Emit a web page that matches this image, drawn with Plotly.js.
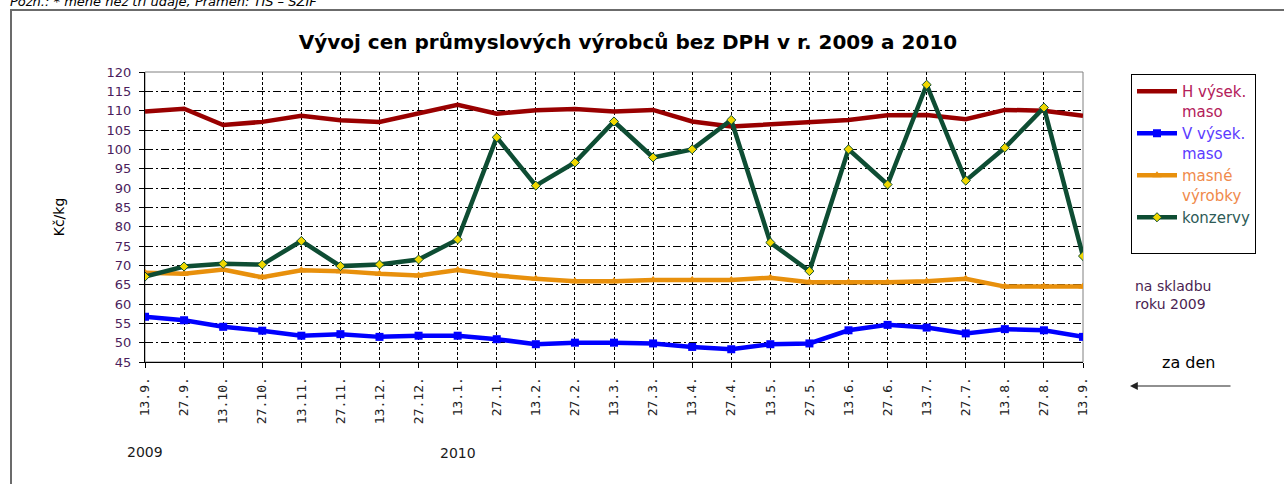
<!DOCTYPE html>
<html>
<head>
<meta charset="utf-8">
<script src="https://cdn.plot.ly/plotly-3.0.1.min.js"></script>
<style>
  html, body { margin: 0; padding: 0; background: #ffffff; }
  #chart { width: 1284px; height: 484px; }
</style>
</head>
<body>
<div id="chart"></div>
<script>
// ---- data ----
const dateLabels = ["13.9.","27.9.","13.10.","27.10.","13.11.","27.11.","13.12.","27.12.",
  "13.1.","27.1.","13.2.","27.2.","13.3.","27.3.","13.4.","27.4.","13.5.","27.5.",
  "13.6.","27.6.","13.7.","27.7.","13.8.","27.8.","13.9."];
const hVysekMaso = [109.8,110.5,106.3,107.1,108.7,107.5,107.1,109.2,111.5,109.2,110.1,110.4,
  109.8,110.2,107.2,105.9,106.5,107.1,107.6,108.8,108.9,107.8,110.2,110.0,108.7];
const vVysekMaso = [56.7,55.8,54.1,53.1,51.8,52.2,51.5,51.8,51.8,50.9,49.6,50.0,
  50.0,49.8,48.9,48.3,49.6,49.8,53.2,54.6,53.9,52.4,53.5,53.2,51.5];
const masneVyrobky = [68.1,67.8,68.9,66.9,68.7,68.5,67.8,67.4,68.8,67.4,66.5,65.9,
  65.9,66.2,66.2,66.2,66.8,65.6,65.6,65.6,65.9,66.5,64.5,64.5,64.5];
const konzervy = [67.1,69.7,70.4,70.2,76.3,69.8,70.2,71.5,76.7,103.1,90.6,96.6,
  107.2,97.9,100.0,107.6,75.9,68.5,100.0,90.9,116.7,91.9,100.4,110.8,72.4];
const seriesNames = ["H výsek.<br>maso", "V výsek.<br>maso", "masné<br>výrobky", "konzervy<br>&nbsp;"];
const yearLabels = ["2009", "2010"];
const yearIndex = [0, 8];

const idx = dateLabels.map((_, i) => i);
const FONT = "DejaVu Sans, Verdana, sans-serif";

const traces = [
  { x: idx, y: hVysekMaso, name: '<span style="color:#b3205a">' + seriesNames[0] + '</span>',
    mode: 'lines', line: { color: '#990000', width: 4.5 }, legendgroup: 'a' },
  { x: idx, y: vVysekMaso, name: '<span style="color:#5b3cff">' + seriesNames[1] + '</span>',
    mode: 'lines+markers', line: { color: '#0000ff', width: 4.5 },
    marker: { symbol: 'square', size: 8, color: '#0000ff' }, legendgroup: 'b' },
  { x: idx, y: masneVyrobky, name: '<span style="color:#f08a4b">' + seriesNames[2] + '</span>',
    mode: 'lines+markers', line: { color: '#e8900c', width: 4.5 },
    marker: { symbol: 'triangle-up', size: 8, color: '#e8900c' }, legendgroup: 'c' },
  { x: idx, y: konzervy, name: '<span style="color:#2e5b57">' + seriesNames[3] + '</span>',
    mode: 'lines+markers', line: { color: '#0e4d33', width: 4.5 },
    marker: { symbol: 'diamond', size: 7, color: '#f0d800', line: { color: '#0e4d33', width: 1 } },
    legendgroup: 'd' }
];

// plot area: x 145..1083, y 72..362
const L = 145, R = 1083, T = 72, B = 362;
const px = v => (v - L) / (R - L);
const py = v => (B - v) / (B - T);

const layout = {
  width: 1284, height: 484,
  margin: { l: L, r: 1284 - R, t: T, b: 484 - B },
  paper_bgcolor: '#ffffff', plot_bgcolor: '#ffffff',
  showlegend: true,
  font: { family: FONT, size: 13, color: '#000' },
  title: {
    text: '<b>Vývoj cen průmyslových výrobců bez DPH v r. 2009 a 2010</b>',
    font: { family: FONT, size: 20, color: '#000' },
    xref: 'container', x: 628 / 1284, xanchor: 'center',
    yref: 'container', y: 1 - 42 / 484, yanchor: 'middle'
  },
  xaxis: {
    range: [0, dateLabels.length - 1],
    tickmode: 'array', tickvals: idx, ticktext: dateLabels,
    tickangle: -90,
    tickfont: { family: 'DejaVu Sans Mono, monospace', size: 13, color: '#222' },
    ticks: 'outside', ticklen: 5, tickcolor: '#000', ticklabelstandoff: 4,
    showline: true, linecolor: '#000', linewidth: 1,
    showgrid: true, gridcolor: '#000', gridwidth: 1, griddash: '3px,2px',
    zeroline: false, fixedrange: true
  },
  yaxis: {
    range: [45, 120], dtick: 5, tick0: 45,
    tickfont: { family: FONT, size: 13, color: '#4b1d5c' },
    ticks: 'outside', ticklen: 5, tickcolor: '#000', ticklabelstandoff: 5,
    showline: true, linecolor: '#000', linewidth: 1,
    showgrid: true, gridcolor: '#000', gridwidth: 1, griddash: '8px,3px,2px,3px',
    zeroline: false, fixedrange: true,
    title: { text: 'Kč/kg', font: { family: FONT, size: 14, color: '#000' }, standoff: 38 }
  },
  legend: {
    x: px(1131), xanchor: 'left', y: py(74), yanchor: 'top',
    bordercolor: '#000', borderwidth: 1, bgcolor: '#fff',
    font: { family: FONT, size: 15 },
    itemwidth: 40, valign: 'top', tracegroupgap: 7,
    traceorder: 'normal'
  },
  shapes: [
    // grey plot-area border
    { type: 'rect', xref: 'paper', yref: 'paper', x0: 0, x1: 1, y0: 0, y1: 1,
      line: { color: '#808080', width: 1 }, layer: 'between' },
    // outer chart frame
    { type: 'rect', xref: 'paper', yref: 'paper', x0: px(11), x1: px(1300), y0: py(10), y1: py(500),
      line: { color: '#6b6b6b', width: 2 } }
  ],
  annotations: [
    { text: '<i>Pozn.: * méně než tři údaje, Pramen: TIS – SZIF</i>', xref: 'paper', yref: 'paper',
      x: px(8), xanchor: 'left', y: py(1), yanchor: 'middle', showarrow: false,
      font: { family: FONT, size: 13, color: '#000' } },
    { text: yearLabels[0], xref: 'x', yref: 'paper', x: yearIndex[0], xanchor: 'center',
      y: py(452), yanchor: 'middle', showarrow: false,
      font: { family: FONT, size: 14, color: '#1a1a1a' } },
    { text: yearLabels[1], xref: 'x', yref: 'paper', x: yearIndex[1], xanchor: 'center',
      y: py(453), yanchor: 'middle', showarrow: false,
      font: { family: FONT, size: 14, color: '#1a1a1a' } },
    { text: 'na skladbu<br>roku 2009', xref: 'paper', yref: 'paper', x: px(1133), xanchor: 'left',
      y: py(276), yanchor: 'top', align: 'left', showarrow: false,
      font: { family: FONT, size: 14, color: '#4b1f52' } },
    { text: 'za den', xref: 'paper', yref: 'paper', x: px(1188), xanchor: 'center',
      y: py(362), yanchor: 'middle', showarrow: false,
      font: { family: FONT, size: 16, color: '#000' } },
    { text: '', xref: 'paper', yref: 'paper', x: px(1130), y: py(386),
      showarrow: true, ax: 102, ay: 0, arrowhead: 2, arrowsize: 1.3, arrowwidth: 1.2, arrowcolor: '#222',
      standoff: 0, startstandoff: 0 }
  ]
};

Plotly.newPlot('chart', traces, layout, { staticPlot: true, displayModeBar: false });
</script>
</body>
</html>
